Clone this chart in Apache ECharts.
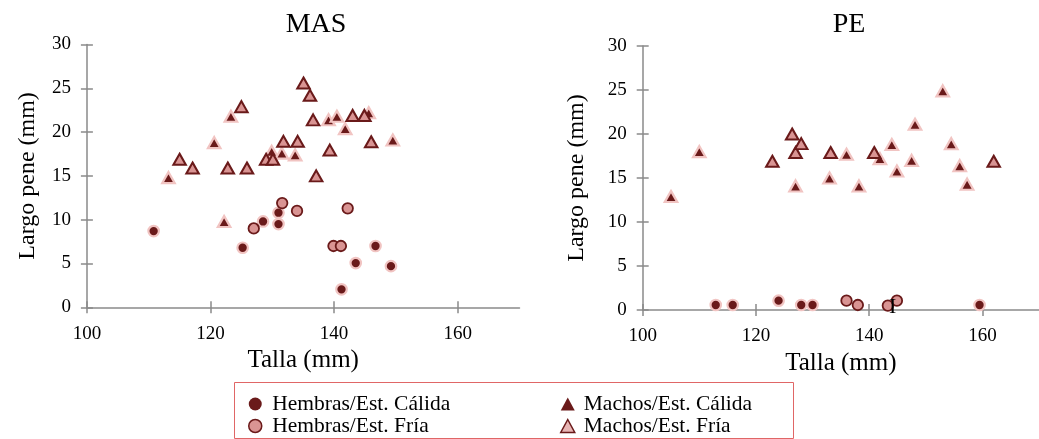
<!DOCTYPE html>
<html>
<head>
<meta charset="utf-8">
<script src="https://cdn.jsdelivr.net/npm/echarts@6/dist/echarts.min.js"></script>
<style>
  html, body { margin: 0; padding: 0; background: #fff; }
  #chart { width: 1039px; height: 439px; }
</style>
</head>
<body>
<div id="chart"></div>
<script>
// Panel titles and axis labelling
const panelTitles = ['MAS', 'PE'];
const xTicks = [100, 120, 140, 160];
const yTicks = [0, 5, 10, 15, 20, 25, 30];
const xName = 'Talla (mm)';
const yName = 'Largo pene (mm)';
const seriesNames = ['Hembras/Est. Cálida', 'Machos/Est. Cálida', 'Hembras/Est. Fría', 'Machos/Est. Fría'];

// MAS: [talla, largo pene]
const masHembrasCalida = [[110.8, 8.7], [125.2, 6.8], [128.5, 9.8], [131.0, 10.8], [131.0, 9.5], [141.2, 2.05], [143.5, 5.05], [146.7, 7.0], [149.2, 4.7]];
const masMachosCalida = [[113.2, 14.8], [120.6, 18.8], [122.2, 9.8], [123.3, 21.8], [129.9, 17.8], [131.55, 17.6], [133.7, 17.4], [139.1, 21.4], [140.45, 21.8], [141.8, 20.4], [145.6, 22.2], [149.5, 19.1]];
const masHembrasFria = [[127.0, 9.0], [131.6, 11.9], [134.0, 11.0], [139.9, 7.0], [141.1, 7.0], [142.2, 11.3]];
const masMachosFria = [[115.0, 16.9], [117.1, 15.9], [122.8, 15.9], [125.0, 22.9], [125.9, 15.9], [129.0, 16.9], [130.1, 16.9], [131.8, 18.95], [134.1, 18.95], [135.05, 25.6], [136.1, 24.2], [136.6, 21.4], [137.1, 15.0], [139.3, 17.95], [143.0, 21.9], [144.9, 21.9], [146.0, 18.9]];

// PE: [talla, largo pene]
const peHembrasCalida = [[112.9, 0.57], [115.9, 0.57], [124.0, 1.06], [128.0, 0.57], [130.0, 0.57], [159.5, 0.57]];
const peMachosCalida = [[105.0, 12.9], [110.0, 18.0], [127.0, 14.1], [133.0, 15.0], [136.0, 17.7], [138.2, 14.1], [141.9, 17.2], [144.0, 18.8], [144.9, 15.8], [147.5, 17.0], [148.1, 21.1], [153.0, 24.9], [154.5, 18.9], [156.0, 16.4], [157.3, 14.3]];
const peHembrasFria = [[136.0, 1.06], [138.0, 0.57], [143.3, 0.5], [144.9, 1.06]];
const peMachosFria = [[122.9, 16.9], [126.4, 20.0], [127.0, 17.9], [128.0, 18.9], [133.2, 17.9], [140.9, 17.9], [162.0, 16.9]];

const SERIF = '"Liberation Serif", "DejaVu Serif", serif';
const DARK = '#6A1A1A';
const PINK = '#D99493';
const HALO = '#F1C4C2';
const AXIS = '#8A8A8A';

const styles = {
  hc: { symbol: 'circle', symbolSize: 10.5, itemStyle: { color: DARK, borderColor: HALO, borderWidth: 2.2, opacity: 1 } },
  mc: { symbol: 'triangle', symbolSize: [12.5, 11], itemStyle: { color: DARK, borderColor: HALO, borderWidth: 2.2, opacity: 1 } },
  hf: { symbol: 'circle', symbolSize: 10.5, itemStyle: { color: PINK, borderColor: DARK, borderWidth: 1.8, opacity: 1 } },
  mf: { symbol: 'triangle', symbolSize: [12.5, 11], itemStyle: { color: PINK, borderColor: DARK, borderWidth: 2, opacity: 1 } }
};

const panels = [
  { data: [masHembrasCalida, masMachosCalida, masHembrasFria, masMachosFria], grid: { left: 86.9, top: 44.5, width: 432.6, height: 262.8 }, yNameGap: 47 },
  { data: [peHembrasCalida, peMachosCalida, peHembrasFria, peMachosFria], grid: { left: 642.7, top: 46, width: 406, height: 264 }, yNameGap: 54 }
];

const grid = [], xAxis = [], yAxis = [], series = [];
const keys = ['hc', 'mc', 'hf', 'mf'];

panels.forEach((p, gi) => {
  grid.push(p.grid);
  // main x axis: line, labels, outer half of the ticks
  xAxis.push({
    type: 'value', gridIndex: gi, position: 'bottom', min: 100, max: 170, interval: 20,
    name: xName, nameLocation: 'middle', nameGap: 36,
    nameTextStyle: { fontFamily: SERIF, fontSize: 25, color: '#000' },
    axisLine: { show: true, lineStyle: { color: AXIS, width: 1.5 } },
    axisTick: { show: true, length: 6, customValues: xTicks, lineStyle: { color: AXIS, width: 1.5 } },
    axisLabel: { customValues: xTicks, fontFamily: SERIF, fontSize: 19, color: '#000', margin: 17 },
    splitLine: { show: false }
  });
  // inner half of the ticks
  xAxis.push({
    type: 'value', gridIndex: gi, position: 'bottom', min: 100, max: 170, interval: 20,
    axisLine: { show: false },
    axisTick: { show: true, inside: true, length: 6, customValues: xTicks, lineStyle: { color: AXIS, width: 1.5 } },
    axisLabel: { show: false }, splitLine: { show: false }
  });
  yAxis.push({
    type: 'value', gridIndex: gi, position: 'left', min: 0, max: 30, interval: 5,
    name: yName, nameLocation: 'middle', nameGap: p.yNameGap, nameRotate: 90,
    nameTextStyle: { fontFamily: SERIF, fontSize: 24, color: '#000' },
    axisLine: { show: true, lineStyle: { color: AXIS, width: 1.5 } },
    axisTick: { show: true, length: 6, customValues: yTicks, lineStyle: { color: AXIS, width: 1.5 } },
    axisLabel: { customValues: yTicks, fontFamily: SERIF, fontSize: 19, color: '#000', margin: 16 },
    splitLine: { show: false }
  });
  yAxis.push({
    type: 'value', gridIndex: gi, position: 'left', min: 0, max: 30, interval: 5,
    axisLine: { show: false },
    axisTick: { show: true, inside: true, length: 6, customValues: yTicks, lineStyle: { color: AXIS, width: 1.5 } },
    axisLabel: { show: false }, splitLine: { show: false }
  });
  p.data.forEach((d, si) => {
    const st = styles[keys[si]];
    series.push({
      type: 'scatter', name: seriesNames[si],
      xAxisIndex: gi * 2, yAxisIndex: gi * 2,
      data: d, symbol: st.symbol, symbolSize: st.symbolSize,
      itemStyle: st.itemStyle, emphasis: { disabled: true }
    });
  });
});

const legendText = { fontFamily: SERIF, fontSize: 21.5, color: '#000', lineHeight: 20 };
const chart = echarts.init(document.getElementById('chart'), null, { renderer: 'canvas' });
chart.setOption({
  animation: false,
  backgroundColor: '#fff',
  title: [
    { text: panelTitles[0], left: 311, top: 6, textAlign: 'center', textStyle: { fontFamily: SERIF, fontSize: 28, fontWeight: 'normal', color: '#000' } },
    { text: panelTitles[1], left: 844, top: 6, textAlign: 'center', textStyle: { fontFamily: SERIF, fontSize: 28, fontWeight: 'normal', color: '#000' } }
  ],
  legend: [
    {
      orient: 'vertical', left: 248, top: 393, height: 100, padding: 0, itemGap: 0, itemWidth: 14, itemHeight: 13,
      textStyle: Object.assign({ padding: [0, 0, 0, 5] }, legendText), selectedMode: false,
      data: [
        { name: seriesNames[0], icon: 'circle', itemStyle: { color: DARK, borderWidth: 0, opacity: 1 } },
        { name: seriesNames[2], icon: 'circle', itemStyle: { color: PINK, borderColor: DARK, borderWidth: 1.5, opacity: 1 } }
      ]
    },
    {
      orient: 'vertical', left: 560, top: 393, height: 100, padding: 0, itemGap: 0, itemWidth: 14, itemHeight: 13,
      textStyle: Object.assign({ padding: [0, 0, 0, 4] }, legendText), selectedMode: false,
      data: [
        { name: seriesNames[1], icon: 'triangle', itemStyle: { color: DARK, borderWidth: 0, opacity: 1 } },
        { name: seriesNames[3], icon: 'triangle', itemStyle: { color: '#E8B5B4', borderColor: DARK, borderWidth: 1.5, opacity: 1 } }
      ]
    }
  ],
  graphic: [
    { type: 'rect', left: 232, top: 380, shape: { width: 559, height: 56 }, style: { fill: 'none', stroke: '#E06666', lineWidth: 1 }, z: 1 },
    { type: 'text', x: 889, y: 296, z: 100, style: { text: 'I', font: '22px ' + SERIF, fill: '#000' } }
  ],
  grid, xAxis, yAxis, series
});
</script>
</body>
</html>
